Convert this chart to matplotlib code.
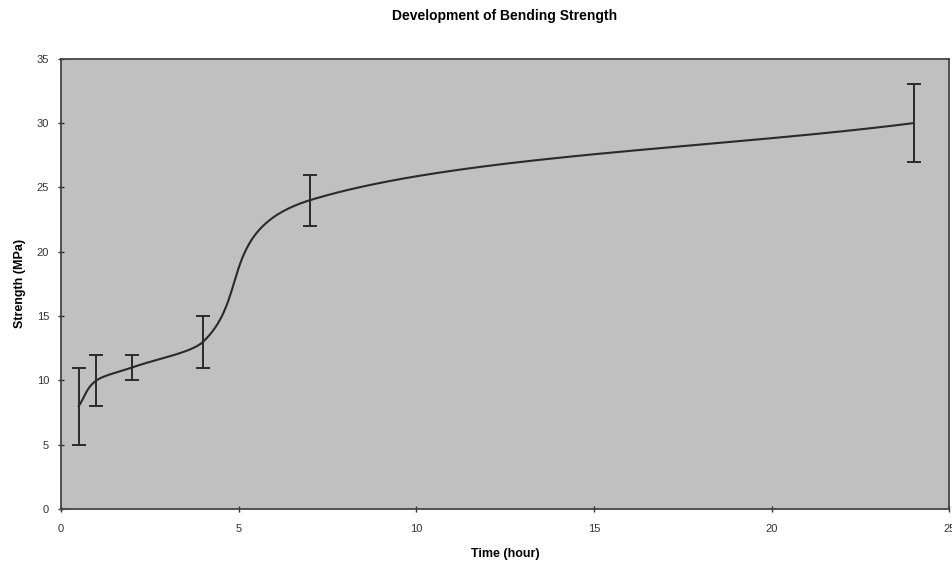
import numpy as np
import matplotlib.pyplot as plt

plt.rcParams['font.family'] = ['Liberation Sans', 'DejaVu Sans']

time_h = [0.5, 1, 2, 4, 7, 24]
strength = [8, 10, 11, 13, 24, 30]
err = [3, 2, 1, 2, 2, 3]


def smooth_line(xs, ys, n=80):
    # smoothed line like Excel: Bezier segments, tangents weighted by chord length
    p = np.column_stack([xs, ys]).astype(float)
    d = np.hypot(*np.diff(p, axis=0).T)
    out = []
    for i in range(len(p) - 1):
        if i > 0:
            c1 = p[i] + (p[i + 1] - p[i - 1]) * d[i] / (d[i - 1] + d[i]) / 3.0
        else:
            c1 = p[i] + (p[i + 1] - p[i]) / 3.0
        if i + 2 < len(p):
            c2 = p[i + 1] - (p[i + 2] - p[i]) * d[i] / (d[i] + d[i + 1]) / 3.0
        else:
            c2 = p[i + 1] - (p[i + 1] - p[i]) / 3.0
        t = np.linspace(0, 1, n)[:, None]
        seg = ((1 - t) ** 3) * p[i] + 3 * ((1 - t) ** 2) * t * c1 \
            + 3 * (1 - t) * t ** 2 * c2 + t ** 3 * p[i + 1]
        out.append(seg)
    out = np.vstack(out)
    return out[:, 0], out[:, 1]


fig = plt.figure(figsize=(9.52, 5.65), dpi=100)
ax = fig.add_axes([0.064, 0.099, 0.933, 0.797])
ax.set_facecolor('#c0c0c0')

sx, sy = smooth_line(time_h, strength)
ax.plot(sx, sy, color='#2a2a2a', lw=1.5)
ax.errorbar(time_h, strength, yerr=err, fmt='none', ecolor='#2a2a2a',
            elinewidth=1.4, capsize=5, capthick=1.4)

ax.set_xlim(0, 25)
ax.set_ylim(0, 35)
ax.set_xticks(range(0, 26, 5))
ax.set_yticks(range(0, 36, 5))
ax.tick_params(direction='inout', length=5, width=1, labelsize=8, colors='#333333')
ax.tick_params(axis='x', pad=8)
ax.tick_params(axis='y', pad=6)
for s in ax.spines.values():
    s.set_color('#444444')
    s.set_linewidth(1.3)

ax.set_title('Development of Bending Strength', fontsize=10, fontweight='bold', pad=28)
ax.set_xlabel('Time (hour)', fontsize=9, fontweight='bold', labelpad=10)
ax.set_ylabel('Strength (MPa)', fontsize=9, fontweight='bold', labelpad=8)

fig.savefig('out.png', dpi=100)
